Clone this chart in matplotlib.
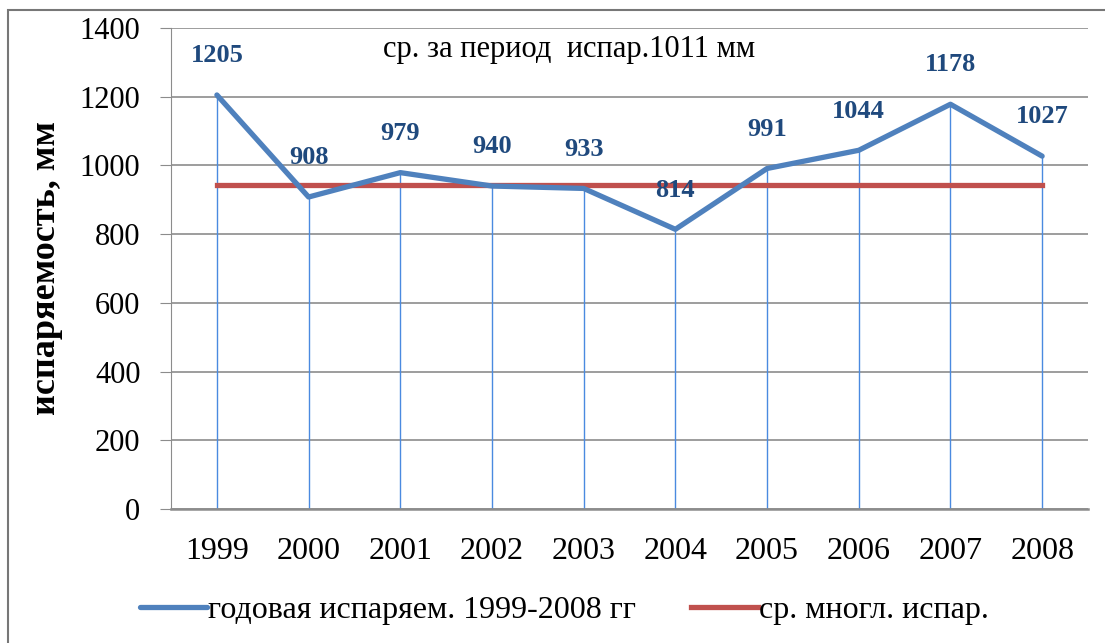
import matplotlib.pyplot as plt
from matplotlib.patches import Rectangle

plt.rcParams['font.family'] = ['Liberation Serif', 'DejaVu Serif']

years = ['1999', '2000', '2001', '2002', '2003', '2004', '2005', '2006', '2007', '2008']
evap = [1205, 908, 979, 940, 933, 814, 991, 1044, 1178, 1027]
mean_long = [943] * len(years)
yticks = [0, 200, 400, 600, 800, 1000, 1200, 1400]

blue = '#4f81bd'
red = '#c0504d'
label_blue = '#1f497d'

fig = plt.figure(figsize=(11.05, 6.43), dpi=100)
ax = fig.add_axes([0.1548, 0.2084, 0.8298, 0.7481])

x = list(range(len(years)))

# drop lines from points to axis
ax.vlines(x, 0, evap, color='#4a8ae0', lw=1.0, zorder=2)
ax.plot(x, evap, color=blue, lw=3.8, zorder=4, solid_capstyle='round',
        label='годовая испаряем. 1999-2008 гг')
ax.plot(x, mean_long, color=red, lw=3.8, zorder=3, label='ср. многл. испар.')

for xi, v in zip(x, evap):
    ax.annotate(str(v), (xi, v), xytext=(0, 20), textcoords='offset points',
                ha='center', va='bottom', fontsize=19, fontweight='bold',
                color=label_blue, zorder=5)

ax.text(0.434, 0.955, 'ср. за период  испар.1011 мм', transform=ax.transAxes,
        ha='center', va='center', fontsize=22)

ax.set_xlim(-0.5, len(years) - 0.5)
ax.set_ylim(0, 1400)
ax.set_yticks(yticks)
ax.set_xticks(x)
ax.set_xticklabels(years)
ax.grid(axis='y', color='#8c8c8c', lw=1.2)
ax.set_axisbelow(True)
for s in ['top', 'right']:
    ax.spines[s].set_visible(False)
ax.spines['left'].set_color('#8c8c8c')
ax.spines['bottom'].set_color('#8c8c8c')
ax.spines['bottom'].set_linewidth(1.8)
ax.tick_params(axis='y', length=8, color='#8c8c8c', labelsize=22, pad=14)
ax.tick_params(axis='x', length=0, labelsize=23, pad=20)
ax.set_ylabel('испаряемость, мм', fontsize=26, fontweight='bold')
ax.yaxis.set_label_coords(-0.118, 0.5)

ax.legend(loc='center', bbox_to_anchor=(0.429, -0.211), ncol=2, frameon=False,
          fontsize=23, handlelength=2.1, handletextpad=0.05, columnspacing=1.7)

fig.patches.append(Rectangle((8 / 1105, -0.05), 1.2, 1 - 10 / 643 + 0.05,
                             transform=fig.transFigure, fill=False,
                             edgecolor='#777777', lw=1.5))

fig.savefig('out.png', dpi=100)
